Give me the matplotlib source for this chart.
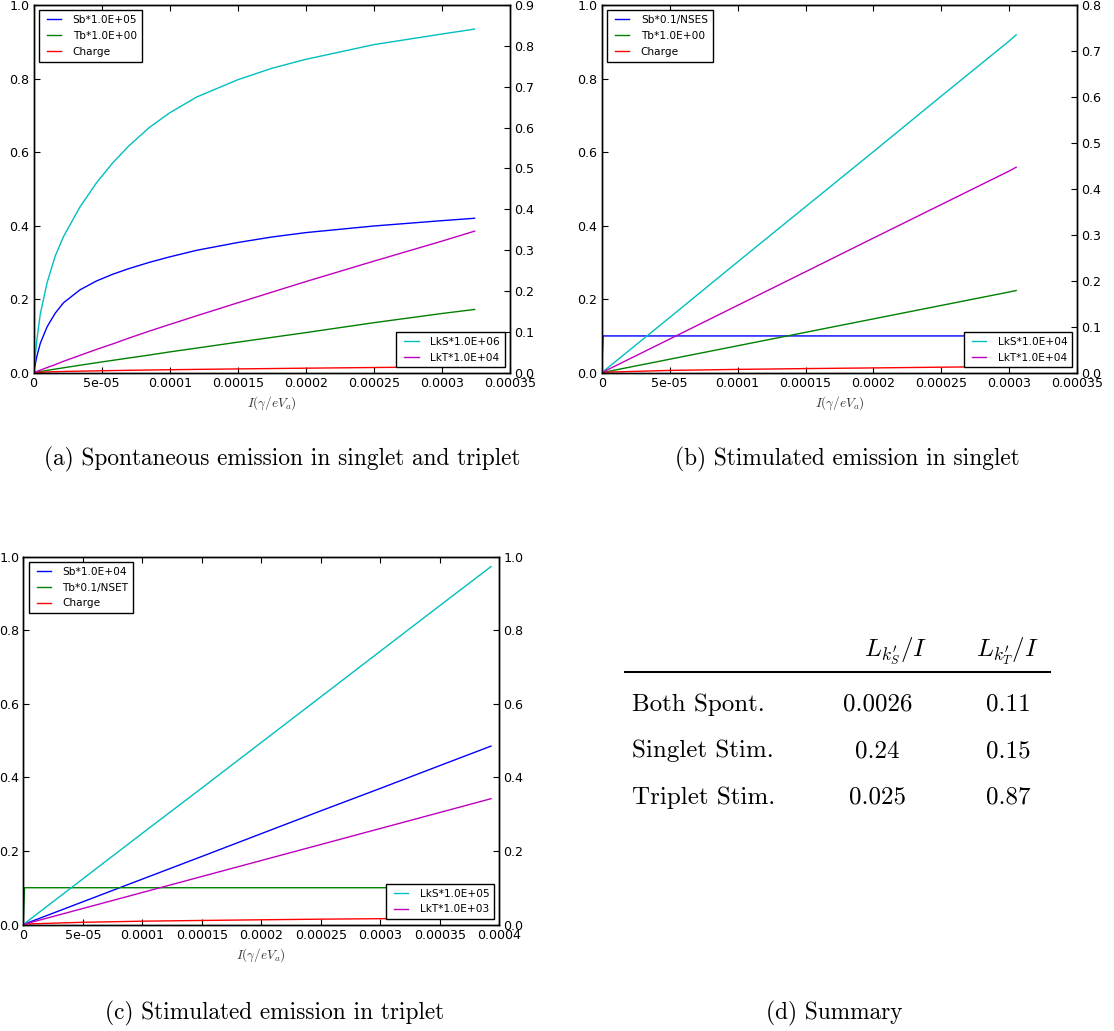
import matplotlib
matplotlib.use("Agg")
import matplotlib.pyplot as plt
from matplotlib.ticker import MultipleLocator, FuncFormatter
from matplotlib.lines import Line2D
import numpy as np

plt.rcParams['mathtext.fontset'] = 'cm'
plt.rcParams['font.family'] = ['DejaVu Sans']
plt.rcParams['axes.linewidth'] = 1.0

# ---------------- data ----------------
# (a) Spontaneous emission in singlet and triplet
xa = [0, 2.5e-6, 5e-6, 1e-5, 1.6e-5, 2.2e-5, 3.4e-5, 4.6e-5, 5.8e-5, 7e-5,
      8.5e-5, 1e-4, 1.2e-4, 1.5e-4, 1.75e-4, 2e-4, 2.5e-4, 3e-4, 3.24e-4]
sb_a = [0, 0.045, 0.08, 0.125, 0.162, 0.19, 0.225, 0.249, 0.2675, 0.283,
        0.300, 0.315, 0.333, 0.354, 0.369, 0.381, 0.399, 0.4135, 0.420]
tb_a = [0, 0.0016, 0.0032, 0.0063, 0.0098, 0.0133, 0.0202, 0.027, 0.0335, 0.040,
        0.048, 0.0565, 0.067, 0.083, 0.096, 0.109, 0.136, 0.161, 0.172]
ch_a = [0, 0.0008, 0.0013, 0.002, 0.0027, 0.0033, 0.0042, 0.005, 0.0058, 0.0065,
        0.0073, 0.0081, 0.009, 0.0103, 0.0113, 0.0123, 0.0141, 0.0158, 0.0166]
lks_a = [0, 0.081, 0.144, 0.2205, 0.286, 0.333, 0.405, 0.4635, 0.513, 0.555,
         0.600, 0.636, 0.675, 0.717, 0.745, 0.767, 0.803, 0.829, 0.841]
lkt_a = [0, 0.0032, 0.0063, 0.0126, 0.0198, 0.0279, 0.0423, 0.0567, 0.0702, 0.0846,
         0.1017, 0.118, 0.1395, 0.171, 0.197, 0.223, 0.273, 0.322, 0.3465]

# (b) Stimulated emission in singlet
xb = [0, 1e-6, 5e-5, 1e-4, 1.5e-4, 2e-4, 2.5e-4, 3e-4, 3.05e-4]
sb_b = [0, 0.1, 0.1, 0.1, 0.1, 0.1, 0.1, 0.1, 0.1]
tb_b = [0, 0.0007, 0.0366, 0.0732, 0.1098, 0.1464, 0.183, 0.2196, 0.2235]
ch_b = [0, 0.0012, 0.0062, 0.009, 0.0112, 0.013, 0.015, 0.0168, 0.017]
lks_b = [0, 0.0024, 0.120, 0.241, 0.361, 0.481, 0.602, 0.722, 0.735]
lkt_b = [0, 0.0015, 0.0732, 0.1464, 0.2196, 0.293, 0.366, 0.439, 0.447]

# (c) Stimulated emission in triplet
xc = [0, 1e-6, 5e-5, 1e-4, 1.5e-4, 2e-4, 2.5e-4, 3e-4, 3.5e-4, 3.93e-4]
sb_c = [0, 0.0012, 0.0617, 0.1234, 0.185, 0.247, 0.309, 0.370, 0.432, 0.485]
tb_c = [0, 0.1, 0.1, 0.1, 0.1, 0.1, 0.1, 0.1, 0.1, 0.1]
ch_c = [0, 0.0012, 0.006, 0.009, 0.011, 0.0128, 0.0145, 0.0158, 0.0168, 0.0175]
lks_c = [0, 0.0025, 0.124, 0.248, 0.371, 0.495, 0.619, 0.743, 0.867, 0.973]
lkt_c = [0, 0.0009, 0.0435, 0.087, 0.1305, 0.174, 0.2175, 0.261, 0.3045, 0.342]

legend_left = [
    ["Sb*1.0E+05", "Tb*1.0E+00", "Charge"],
    ["Sb*0.1/NSES", "Tb*1.0E+00", "Charge"],
    ["Sb*1.0E+04", "Tb*0.1/NSET", "Charge"],
]
legend_right = [
    ["LkS*1.0E+06", "LkT*1.0E+04"],
    ["LkS*1.0E+04", "LkT*1.0E+04"],
    ["LkS*1.0E+05", "LkT*1.0E+03"],
]
captions = ["(a) Spontaneous emission in singlet and triplet",
            "(b) Stimulated emission in singlet",
            "(c) Stimulated emission in triplet",
            "(d) Summary"]

row_labels = ["Both Spont.", "Singlet Stim.", "Triplet Stim."]
col_headers = [r"$L_{k^{\prime}_{S}}/I$", r"$L_{k^{\prime}_{T}}/I$"]
lks_ratio = ["0.0026", "0.24", "0.025"]
lkt_ratio = ["0.11", "0.15", "0.87"]

# ---------------- layout ----------------
W, H = 1114, 1031
fig = plt.figure(figsize=(W / 100, H / 100), dpi=100)


def rect(l, t, r, b):
    return [l / W, 1 - b / H, (r - l) / W, (b - t) / H]


def fx(x):
    return x / W


def fy(y):
    return 1 - y / H


TICK_FS = 9.1
LEG_FS = 7.6


def legend(ax, loc):
    lg = ax.legend(loc=loc, fontsize=LEG_FS, numpoints=2, handlelength=1.95,
                   handletextpad=0.8, borderpad=0.46, labelspacing=0.55,
                   borderaxespad=0.5, fancybox=False, framealpha=1)
    lg.get_frame().set_edgecolor('black')
    lg.get_frame().set_linewidth(1.0)
    return lg


def panel(r, x, sb, tb, ch, lks, lkt, xmax, rmax, rstep, lleg, rleg):
    ax = fig.add_axes(r)
    ax.plot(x, sb, color='b', lw=1.0, label=lleg[0])
    ax.plot(x, tb, color='g', lw=1.0, label=lleg[1])
    ax.plot(x, ch, color='r', lw=1.0, label=lleg[2])
    ax.set_xlim(0, xmax)
    ax.set_ylim(0, 1.0)
    ax.xaxis.set_major_locator(MultipleLocator(5e-5))
    ax.xaxis.set_major_formatter(FuncFormatter(lambda v, p: '%g' % round(v, 10)))
    ax.yaxis.set_major_locator(MultipleLocator(0.2))
    ax.yaxis.set_major_formatter(FuncFormatter(lambda v, p: '%.1f' % v))
    ax.tick_params(axis='both', direction='in', length=4, width=0.8,
                   labelsize=TICK_FS, pad=3)
    ax.tick_params(axis='x', top=True)
    ax.tick_params(axis='y', right=False)
    ax.set_xlabel(r"$I(\gamma/eV_a)$", fontsize=9.5, labelpad=3, color='0.2')
    legend(ax, 'upper left')

    ax2 = ax.twinx()
    ax2.plot(x, lks, color='c', lw=1.0, label=rleg[0])
    ax2.plot(x, lkt, color='m', lw=1.0, label=rleg[1])
    ax2.set_ylim(0, rmax)
    ax2.set_xlim(0, xmax)
    ax2.yaxis.set_major_locator(MultipleLocator(rstep))
    ax2.yaxis.set_major_formatter(FuncFormatter(lambda v, p: '%.1f' % v))
    ax2.tick_params(axis='y', direction='in', length=4, width=0.8,
                    labelsize=TICK_FS, pad=3)
    legend(ax2, 'lower right')
    return ax, ax2


panel(rect(33.5, 5, 510, 372.7), xa, sb_a, tb_a, ch_a, lks_a, lkt_a,
      3.5e-4, 0.9, 0.1, legend_left[0], legend_right[0])
panel(rect(601.7, 5, 1077.3, 372.7), xb, sb_b, tb_b, ch_b, lks_b, lkt_b,
      3.5e-4, 0.8, 0.1, legend_left[1], legend_right[1])
panel(rect(23.3, 556.7, 499.3, 924.5), xc, sb_c, tb_c, ch_c, lks_c, lkt_c,
      4.0e-4, 1.0, 0.2, legend_left[2], legend_right[2])

# ---------------- captions ----------------
CAP_FS = 16.8
cap_pos = [(282, 465), (847, 465), (275, 1019.3), (834.7, 1019.3)]
for text, (cx, cy) in zip(captions, cap_pos):
    fig.text(fx(cx), fy(cy), text, fontsize=CAP_FS, family='cmr10',
             ha='center', va='baseline')

# ---------------- table (d) ----------------
TAB_FS = 18
col_x = [877.5, 1008]
hdr_x = [896, 1007]
for hx, h in zip(hdr_x, col_headers):
    fig.text(fx(hx), fy(656.7), h, fontsize=TAB_FS, ha='center', va='baseline')
fig.add_artist(Line2D([fx(625), fx(1050)], [fy(672.3), fy(672.3)],
                      color='black', lw=1.45, transform=fig.transFigure))
row_y = [710.7, 757.3, 804]
for ry, lab, v1, v2 in zip(row_y, row_labels, lks_ratio, lkt_ratio):
    fig.text(fx(631.7), fy(ry), lab, fontsize=TAB_FS, family='cmr10',
             ha='left', va='baseline')
    fig.text(fx(col_x[0]), fy(ry), v1, fontsize=TAB_FS, family='cmr10',
             ha='center', va='baseline')
    fig.text(fx(col_x[1]), fy(ry), v2, fontsize=TAB_FS, family='cmr10',
             ha='center', va='baseline')

fig.savefig("out.png", dpi=100)
